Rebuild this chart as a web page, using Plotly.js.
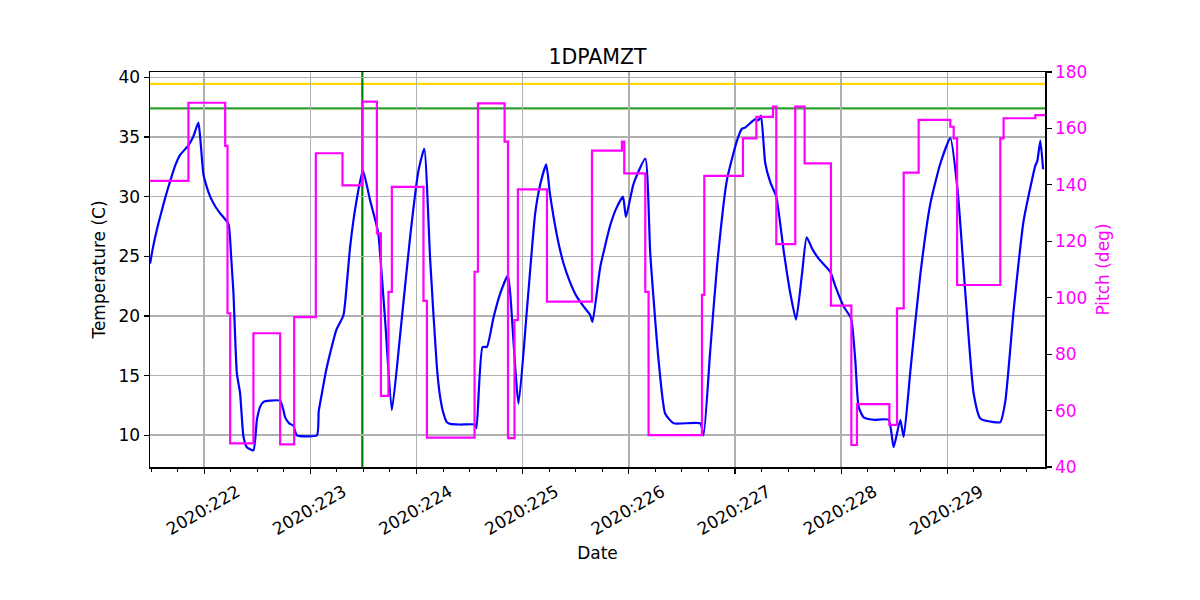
<!DOCTYPE html>
<html>
<head>
<meta charset="utf-8">
<script src="https://cdn.plot.ly/plotly-3.0.1.min.js"></script>
<style>html,body{margin:0;padding:0;background:#fff;}#chart{width:1200px;height:600px;}</style>
</head>
<body>
<div id="chart"></div>
<script>
// Time in day-of-year (2020)
const tempTime = [221.491,221.515,221.538,221.562,221.585,221.609,221.633,221.656,221.680,221.727,221.774,221.852,221.896,221.946,221.967,221.993,222.025,222.057,222.104,222.151,222.229,222.254,222.276,222.308,222.339,222.370,222.402,222.464,222.497,222.528,222.559,222.622,222.716,222.744,222.763,222.801,222.841,222.873,223.062,223.079,223.109,223.148,223.187,223.244,223.312,223.347,223.375,223.432,223.495,223.563,223.627,223.642,223.705,223.768,223.847,223.941,224.019,224.073,224.129,224.192,224.223,224.255,224.286,224.318,224.412,224.553,224.566,224.622,224.663,224.726,224.789,224.861,224.883,224.961,225.040,225.118,225.165,225.222,225.256,225.291,225.338,225.385,225.448,225.511,225.574,225.637,225.658,225.731,225.825,225.881,225.945,225.973,226.045,226.155,226.202,226.280,226.343,226.422,226.673,226.704,226.767,226.830,226.924,227.019,227.066,227.097,227.191,227.222,227.245,227.285,227.333,227.389,227.458,227.521,227.575,227.631,227.675,227.729,227.788,227.898,227.945,228.023,228.093,228.133,228.164,228.212,228.306,228.447,228.494,228.557,228.589,228.652,228.746,228.840,228.935,229.029,229.097,229.170,229.248,229.311,229.437,229.499,229.547,229.625,229.719,229.829,229.848,229.876,229.902];
const tempC = [24.4,25.6,26.6,27.5,28.3,29.1,29.9,30.6,31.3,32.6,33.5,34.3,35.0,36.2,34.5,31.9,30.8,30.0,29.2,28.6,27.7,25.0,21.9,15.2,13.5,9.9,9.0,8.74,11.3,12.4,12.8,12.9,12.9,12.2,11.5,11.0,10.8,10.0,10.0,12.0,13.5,15.4,16.9,18.8,20.06,23.0,25.8,29.5,32.2,29.7,27.5,26.8,19.6,12.1,18.5,26.7,32.2,34.0,24.7,15.7,13.2,11.8,11.1,10.95,10.9,10.9,10.6,17.4,17.4,19.9,21.9,23.4,21.9,12.65,20.5,28.6,31.0,32.7,30.3,28.3,26.1,24.4,22.8,21.6,20.8,20.06,19.5,24.1,27.6,29.0,30.0,28.3,31.1,33.2,25.2,16.3,11.8,11.0,11.0,10.0,17.1,24.1,31.4,34.7,35.7,35.8,36.5,36.4,36.8,32.8,31.2,30.0,25.5,21.9,19.7,23.5,26.6,25.6,24.8,23.7,22.5,20.8,19.8,16.3,12.4,11.5,11.3,11.3,9.0,11.3,9.86,15.4,23.5,29.4,32.8,34.9,30.5,21.9,13.5,11.4,11.1,11.1,12.9,20.5,28.0,32.6,33.0,34.7,32.3];

const pitchTime = [221.491,221.852,222.198,222.220,222.245,222.464,222.716,222.848,223.052,223.303,223.491,223.627,223.665,223.736,223.768,224.066,224.098,224.547,224.579,224.830,224.862,224.923,224.955,225.229,225.653,225.935,225.957,226.155,226.186,226.689,226.711,227.075,227.201,227.358,227.389,227.568,227.656,227.904,228.096,228.149,228.454,228.526,228.589,228.730,229.028,229.060,229.092,229.499,229.530,229.829,229.923];
const pitchDeg = [141.4,169.1,153.8,94.5,48.4,87.4,48.0,93.1,151.2,139.8,169.5,122.8,65.2,102.1,139.3,98.9,50.4,109.2,168.9,155.3,50.2,92.1,138.4,98.6,152.1,155.3,144.1,102.1,51.3,101.0,143.2,156.5,164.1,167.7,119.0,167.7,147.6,97.2,47.8,62.3,54.9,96.2,144.3,163.0,160.6,156.5,104.5,156.5,163.6,164.7,164.7];

const tempLimits = [39.45, 37.4];
const limitColors = ['#ffd700', '#2ca02c'];
const markerTime = [223.49];

const xTickVals = [222,223,224,225,226,227,228,229];
const xTickText = ['2020:222','2020:223','2020:224','2020:225','2020:226','2020:227','2020:228','2020:229'];
const yTickVals = [10,15,20,25,30,35,40];
const y2TickVals = [40,60,80,100,120,140,160,180];

const font = 'DejaVu Sans, sans-serif';
const fs = 17;

const traces = [
  {x: tempTime, y: tempC, type: 'scatter', mode: 'lines', line: {color: '#0000ff', width: 2.2, shape: 'spline', smoothing: 0.5}, yaxis: 'y', hoverinfo: 'skip'},
  {x: pitchTime, y: pitchDeg, type: 'scatter', mode: 'lines', line: {color: '#ff00ff', width: 2.2, shape: 'hv'}, yaxis: 'y2', hoverinfo: 'skip'}
];

const shapes = [];
tempLimits.forEach((v, i) => {
  shapes.push({type: 'line', xref: 'paper', x0: 0, x1: 1, yref: 'y', y0: v, y1: v, line: {color: limitColors[i], width: 2.2}, layer: 'between'});
});
markerTime.forEach(t => {
  shapes.push({type: 'line', xref: 'x', x0: t, x1: t, yref: 'paper', y0: 0, y1: 1, line: {color: '#008000', width: 2.2}, layer: 'between'});
});

const layout = {
  width: 1200, height: 600, autosize: false,
  paper_bgcolor: '#ffffff', plot_bgcolor: '#ffffff',
  margin: {l: 150, r: 155, t: 72, b: 133},
  showlegend: false,
  font: {family: font, size: fs, color: '#000'},
  title: {text: '1DPAMZT', font: {family: font, size: 20.5, color: '#000'}, xref: 'paper', x: 0.5, xanchor: 'center', yref: 'container', y: 0.905, yanchor: 'middle'},
  xaxis: {
    range: [221.49, 229.92], tickmode: 'array', tickvals: xTickVals, ticktext: xTickText,
    tickangle: -30, ticks: 'outside', ticklen: 5, tickwidth: 1.2, tickcolor: '#000',
    ticklabelshift: 33, ticklabelstandoff: 2,
    showline: true, linecolor: '#000', linewidth: 1.5, mirror: true,
    showgrid: true, gridcolor: '#b0b0b0', gridwidth: 1.6, zeroline: false,
    tickfont: {family: font, size: fs, color: '#000'},
    minor: {tickmode: 'linear', tick0: 222, dtick: 0.25, ticks: 'outside', ticklen: 3, tickwidth: 1, tickcolor: '#000', showgrid: false},
    title: {text: 'Date', font: {family: font, size: fs, color: '#000'}, standoff: 9}
  },
  yaxis: {
    range: [7.34, 40.45], tickmode: 'array', tickvals: yTickVals,
    ticks: 'outside', ticklen: 5, tickwidth: 1.2, tickcolor: '#000',
    showline: true, linecolor: '#000', linewidth: 1.5,
    showgrid: true, gridcolor: '#b0b0b0', gridwidth: 1.6, zeroline: false,
    tickfont: {family: font, size: fs, color: '#000'},
    title: {text: 'Temperature (C)', font: {family: font, size: fs, color: '#000'}, standoff: 8}
  },
  yaxis2: {
    overlaying: 'y', side: 'right', range: [40, 180], tickmode: 'array', tickvals: y2TickVals,
    ticks: 'outside', ticklen: 5, tickwidth: 1.2, tickcolor: '#000',
    showline: true, linecolor: '#000', linewidth: 1.5,
    showgrid: false, zeroline: false,
    tickfont: {family: font, size: fs, color: '#ff00ff'},
    title: {text: 'Pitch (deg)', font: {family: font, size: fs, color: '#ff00ff'}, standoff: 10}
  },
  shapes: shapes
};

Plotly.newPlot('chart', traces, layout, {staticPlot: true, displayModeBar: false});
</script>
</body>
</html>
